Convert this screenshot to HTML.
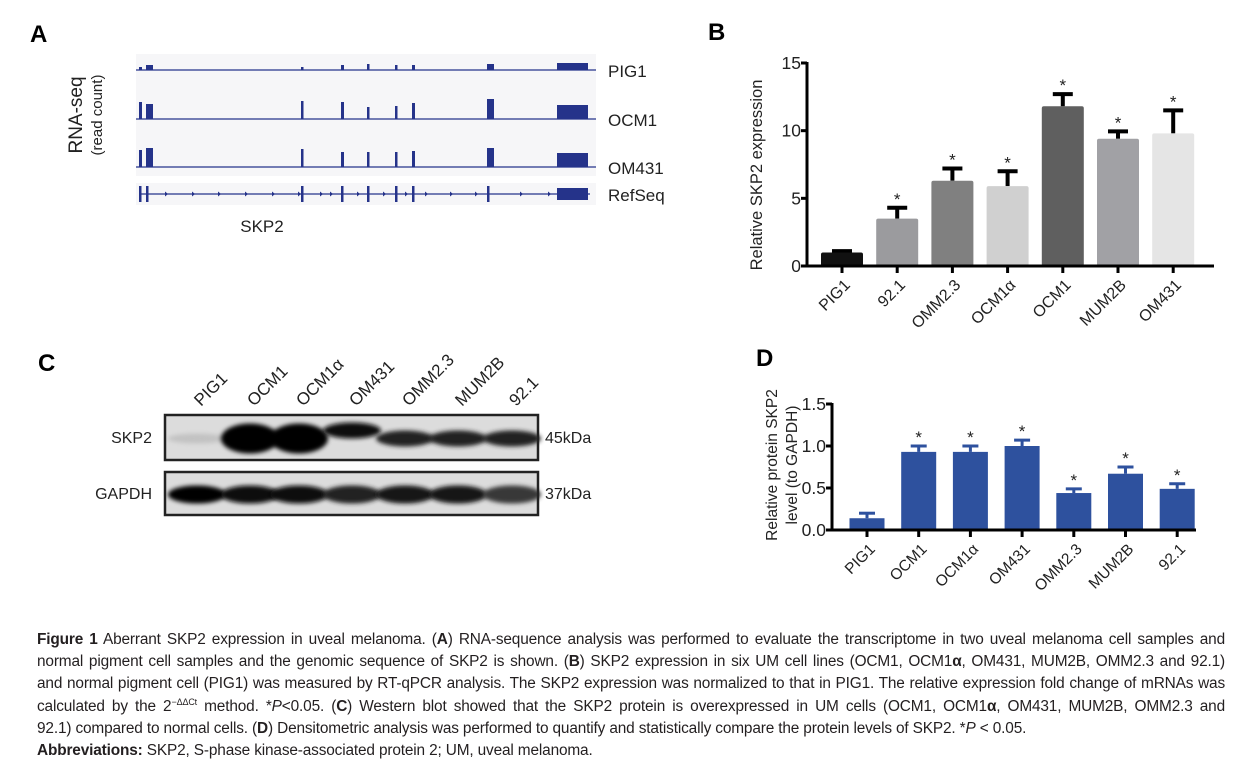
<!DOCTYPE html>
<html><head><meta charset="utf-8"><style>
body{margin:0;background:#fff;width:1236px;height:771px;overflow:hidden;font-family:"Liberation Sans",sans-serif}
svg{position:absolute;left:0;top:0}
.cap{position:absolute;left:37px;top:629px;width:1188px;font-size:15.4px;line-height:22.2px;color:#231f20;white-space:nowrap;letter-spacing:-0.15px}
.cap div{height:22.2px}
.cap div.j{text-align:justify;text-align-last:justify;white-space:normal}
.cap sup{font-size:9px;line-height:0;vertical-align:6px}
</style></head><body>
<svg width="1236" height="625" viewBox="0 0 1236 625" font-family="Liberation Sans, sans-serif">
<defs>
<filter id="blur" x="-20%" y="-50%" width="140%" height="200%"><feGaussianBlur stdDeviation="2.2"/></filter>
</defs>
<g id="panelA">
<text x="30" y="42" font-size="24" font-weight="bold">A</text>
<rect x="136" y="54" width="460" height="122" fill="#f6f6f8"/>
<rect x="136" y="183" width="460" height="22" fill="#f6f6f8"/>
<g id="tracks"></g>
<text x="608" y="77" font-size="17" fill="#222">PIG1</text>
<text x="608" y="126" font-size="17" fill="#222">OCM1</text>
<text x="608" y="174" font-size="17" fill="#222">OM431</text>
<text x="608" y="201" font-size="17" fill="#222">RefSeq</text>
<text x="262" y="232" font-size="17" fill="#222" text-anchor="middle">SKP2</text>
<text transform="translate(82,115) rotate(-90)" font-size="19" fill="#222" text-anchor="middle">RNA-seq</text>
<text transform="translate(102,115) rotate(-90)" font-size="15" fill="#222" text-anchor="middle">(read count)</text>
</g>
<g id="panelB">
<text x="708" y="40" font-size="24" font-weight="bold">B</text>
<text transform="translate(762,175) rotate(-90)" font-size="16.5" fill="#222" text-anchor="middle">Relative SKP2 expression</text>
<g id="chartB"></g>
</g>
<g id="panelC">
<text x="38" y="371" font-size="24" font-weight="bold">C</text>
<g id="blot"></g>
<text x="152" y="443" font-size="16" fill="#222" text-anchor="end">SKP2</text>
<text x="152" y="499" font-size="16" fill="#222" text-anchor="end">GAPDH</text>
<text x="545" y="443" font-size="16" fill="#222">45kDa</text>
<text x="545" y="499" font-size="16" fill="#222">37kDa</text>
</g>
<g id="panelD">
<text x="756" y="366" font-size="24" font-weight="bold">D</text>
<text transform="translate(777,465) rotate(-90)" font-size="15.5" fill="#222" text-anchor="middle">Relative protein SKP2</text>
<text transform="translate(797,465) rotate(-90)" font-size="15.5" fill="#222" text-anchor="middle">level (to GAPDH)</text>
<g id="chartD"></g>
</g>
</svg>
<div class="cap">
<div class="j"><b>Figure 1</b> Aberrant SKP2 expression in uveal melanoma. (<b>A</b>) RNA-sequence analysis was performed to evaluate the transcriptome in two uveal melanoma cell samples and</div>
<div class="j">normal pigment cell samples and the genomic sequence of SKP2 is shown. (<b>B</b>) SKP2 expression in six UM cell lines (OCM1, OCM1<b>α</b>, OM431, MUM2B, OMM2.3 and 92.1)</div>
<div class="j">and normal pigment cell (PIG1) was measured by RT-qPCR analysis. The SKP2 expression was normalized to that in PIG1. The relative expression fold change of mRNAs was</div>
<div class="j">calculated by the 2<sup>−ΔΔCt</sup> method. *<i>P</i>&lt;0.05. (<b>C</b>) Western blot showed that the SKP2 protein is overexpressed in UM cells (OCM1, OCM1<b>α</b>, OM431, MUM2B, OMM2.3 and</div>
<div>92.1) compared to normal cells. (<b>D</b>) Densitometric analysis was performed to quantify and statistically compare the protein levels of SKP2. *<i>P</i> &lt; 0.05.</div>
<div><b>Abbreviations:</b> SKP2, S-phase kinase-associated protein 2; UM, uveal melanoma.</div>
</div>
<script>
const NS='http://www.w3.org/2000/svg';
function mk(parent,tag,attrs,txt){const e=document.createElementNS(NS,tag);for(const k in attrs)e.setAttribute(k,attrs[k]);if(txt!==undefined)e.textContent=txt;parent.appendChild(e);return e;}

const exonStart=[139,146,301,341,367,395,412,487,557];
const exonEnd  =[142,153,303,344,369,397,415,494,588];
const trackNames=['PIG1','OCM1','OM431'];
const pig1Heights=[3,5,3,5,6,5,5,6,7];
const ocm1Heights=[17,15,18,17,12,13,16,20,14];
const om431Heights=[17,19,18,15,15,15,16,19,14];
const trackBaselines=[70,119,167];
(function(){
  const g=document.getElementById('tracks');
  const all=[pig1Heights,ocm1Heights,om431Heights];
  const col='#25338a';
  all.forEach((hs,ti)=>{
    const b=trackBaselines[ti];
    const ln=mk(g,'line',{x1:136,x2:596,y1:b,y2:b,stroke:col,'stroke-width':1.3});
    
    
    hs.forEach((h,i)=>{
      const r=mk(g,'rect',{x:exonStart[i],y:b-h,width:Math.max(2.5,exonEnd[i]-exonStart[i]),height:h,fill:col});
      
      
    });
  });
  const y=194;
  const l=mk(g,'line',{x1:139,x2:590,y1:y,y2:y,stroke:col,'stroke-width':1.3});
  
  
  exonStart.forEach((s,i)=>{
    const wide=i===8;
    const r=mk(g,'rect',{x:s,y:wide?y-6:y-8,width:wide?exonEnd[i]-s:2.5,height:wide?12:16,fill:col});
    
    
  });
  [165,192,218,245,272,298,320,330,357,383,405,425,450,475,520,548].forEach(x=>{
    const p=mk(g,'path',{d:`M${x} ${y-2.5}L${x+3} ${y}L${x} ${y+2.5}Z`,fill:col});
    
    
  });
})();

const bCategories=['PIG1','92.1','OMM2.3','OCM1α','OCM1','MUM2B','OM431'];
const bValues=[1.0,3.5,6.3,5.9,11.8,9.4,9.8];
const bErrors=[0.1,0.8,0.9,1.1,0.9,0.55,1.7];
const bSignificant=[false,true,true,true,true,true,true];
const bTicks=[0,5,10,15];
const bColors=['#111111','#9b9b9e','#808080','#d0d0d0','#5f5f5f','#a1a1a5','#e5e5e5'];

const dCategories=['PIG1','OCM1','OCM1α','OM431','OMM2.3','MUM2B','92.1'];
const dValues=[0.14,0.93,0.93,1.0,0.44,0.67,0.49];
const dErrors=[0.06,0.07,0.07,0.07,0.05,0.08,0.06];
const dSignificant=[false,true,true,true,true,true,true];
const dTicks=['0.0','0.5','1.0','1.5'];

function barChart(g,o){
  const ys=v=>o.y0-(v-o.ymin)/(o.ymax-o.ymin)*(o.y0-o.y1);
  const xs=i=>o.x0+i*o.step;
  o.values.forEach((v,i)=>{
    const cx=xs(i);
    const e=mk(g,'line',{x1:cx,x2:cx,y1:ys(v),y2:ys(v+o.errors[i]),stroke:o.errColor,'stroke-width':o.ew});
    
    
    const c=mk(g,'line',{x1:cx-o.capw,x2:cx+o.capw,y1:ys(v+o.errors[i]),y2:ys(v+o.errors[i]),stroke:o.errColor,'stroke-width':o.ew});
    
    
    const r=mk(g,'rect',{x:cx-o.bw/2,y:ys(v),width:o.bw,height:o.y0-ys(v),fill:o.colors?o.colors[i]:o.color,rx:o.rx||0});
    
    
    if(o.sig[i]){
      const s=mk(g,'text',{x:cx,y:ys(v+o.errors[i])-3,'font-size':17,'text-anchor':'middle',fill:'#222'},'*');
      
      
    }
    const t=mk(g,'line',{x1:cx,x2:cx,y1:o.y0,y2:o.y0+7,stroke:'#000','stroke-width':3});
    
    
    const lb=mk(g,'text',{transform:`translate(${cx+9},${o.y0+20}) rotate(-45)`,'font-size':o.fs,'text-anchor':'end',fill:'#222'},o.cats[i]);
    
    
  });
  const ax=mk(g,'line',{x1:o.ax,x2:o.ax,y1:o.y1-1,y2:o.y0+1.5,stroke:'#000','stroke-width':3});
  
  
  const xa=mk(g,'line',{x1:o.ax-1.5,x2:o.xend,y1:o.y0,y2:o.y0,stroke:'#000','stroke-width':3});
  
  
  o.ticks.forEach(tk=>{
    const y=ys(parseFloat(tk));
    const t=mk(g,'line',{x1:o.ax-6,x2:o.ax,y1:y,y2:y,stroke:'#000','stroke-width':3});
    
    
    const l=mk(g,'text',{x:o.ax-6,y:y+6,'font-size':o.tfs,'text-anchor':'end',fill:'#222'},String(tk));
    
    
  });
}
barChart(document.getElementById('chartB'),{cats:bCategories,values:bValues,errors:bErrors,sig:bSignificant,ticks:bTicks,colors:bColors,
  ymin:0,ymax:15,y0:266,y1:63,x0:842,step:55.2,bw:42,ax:807,xend:1214,capw:10,ew:4,errColor:'#000',fs:16,tfs:17.5,rx:2});
barChart(document.getElementById('chartD'),{cats:dCategories,values:dValues,errors:dErrors,sig:dSignificant,ticks:dTicks,color:'#2e519e',
  ymin:0,ymax:1.5,y0:530,y1:404,x0:867,step:51.7,bw:35,ax:832,xend:1196,capw:8,ew:3,errColor:'#2e519e',fs:15.5,tfs:17.5});

const laneNames=['PIG1','OCM1','OCM1α','OM431','OMM2.3','MUM2B','92.1'];
const skp2Intensity=[0.12,1,1,0.95,0.85,0.85,0.85];
const gapdhIntensity=[1,0.95,0.95,0.85,0.9,0.92,0.75];
(function(){
  const g=document.getElementById('blot');
  const lanes=[197,250,299,352,405,458,512];
  [[415,460,skp2Intensity,'skp2'],[472,515,gapdhIntensity,'gapdh']].forEach(([t,b,ints,nm])=>{
    const bg=mk(g,'rect',{x:165,y:t,width:373,height:b-t,fill:'#dcdcdc'});
    
    
    const cy=(t+b)/2+1;
    ints.forEach((v,i)=>{
      const h=nm==='skp2'?(i>=1&&i<=2?30:(i===0?10:16)):18;
      const dy=nm==='skp2'&&i===3?-8:0;
      const lum=Math.round(220*(1-v));
      const band=mk(g,'ellipse',{cx:lanes[i],cy:cy+dy,rx:29,ry:h/2,fill:`rgb(${lum},${lum},${lum})`,filter:'url(#blur)'});
      
      
    });
    const fr=mk(g,'rect',{x:165,y:t,width:373,height:b-t,fill:'none',stroke:'#222','stroke-width':2.5});
    
    
  });
  laneNames.forEach((n,i)=>{
    const l=mk(g,'text',{transform:`translate(${lanes[i]+4},${407}) rotate(-45)`,'font-size':17,fill:'#222'},n);
    
    
  });
})();
</script>
</body></html>
